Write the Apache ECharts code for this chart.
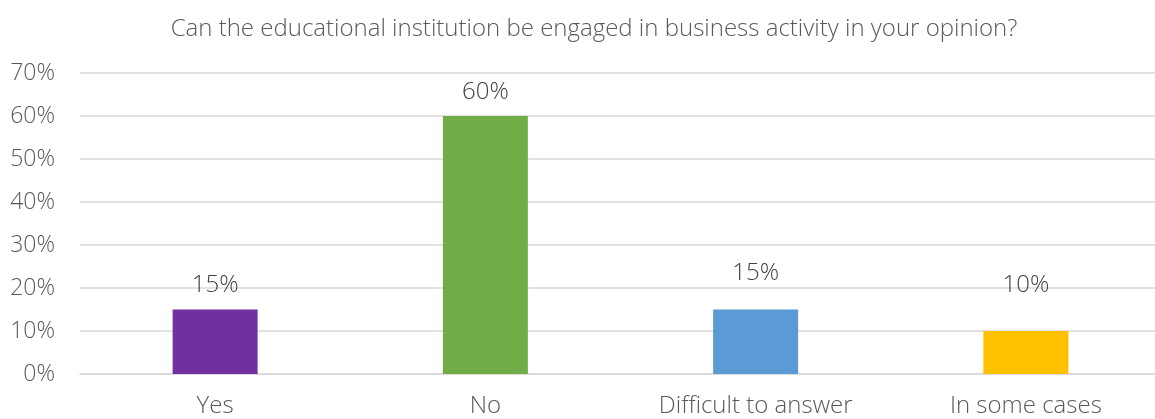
<!DOCTYPE html>
<html>
<head>
<meta charset="utf-8">
<script src="https://cdn.jsdelivr.net/npm/echarts@6/dist/echarts.min.js"></script>
<style>
html,body{margin:0;padding:0;background:#fff;}
#chart{width:1155px;height:419px;}
</style>
</head>
<body>
<div id="chart"></div>
<script>
const titleText = 'Can the educational institution be engaged in business activity in your opinion?';
const categories = ['Yes', 'No', 'Difficult to answer', 'In some cases'];
const values = [15, 60, 15, 10];
const barColors = ['#7030A0', '#70AD47', '#5B9BD5', '#FFC000'];
const yTicks = [0, 10, 20, 30, 40, 50, 60, 70];
const labelDistances = [12, 12, 24, 34];

const font = '"Open Sans", Lato, sans-serif';
const chart = echarts.init(document.getElementById('chart'));
chart.setOption({
  animation: false,
  title: {
    text: titleText,
    left: 589, top: 12, textAlign: 'center',
    textStyle: {fontFamily: font, fontWeight: 300, fontSize: 24, color: '#595959'}
  },
  grid: {left: 80, width: 1081, top: 73, height: 301, containLabel: false, outerBoundsMode: 'none'},
  xAxis: {
    type: 'category',
    data: categories,
    axisLine: {show: true, lineStyle: {color: '#d9d9d9', width: 1.5}},
    axisTick: {show: false},
    axisLabel: {fontFamily: font, fontWeight: 300, fontSize: 24, color: '#595959', margin: 20}
  },
  yAxis: {
    type: 'value',
    min: yTicks[0], max: yTicks[yTicks.length - 1], interval: 10,
    axisLine: {show: false},
    axisTick: {show: false},
    splitLine: {lineStyle: {color: '#d9d9d9', width: 1.5}},
    axisLabel: {fontFamily: font, fontWeight: 300, fontSize: 23, color: '#595959', margin: 25,
      formatter: v => v + '%'}
  },
  series: [{
    type: 'bar',
    data: values.map((v, i) => ({
      value: v,
      itemStyle: {color: barColors[i]},
      label: {distance: labelDistances[i]}
    })),
    barWidth: 85,
    label: {
      show: true, position: 'top',
      fontFamily: font, fontWeight: 300, fontSize: 24, color: '#404040',
      formatter: p => p.value + '%'
    }
  }]
});
</script>
</body>
</html>
